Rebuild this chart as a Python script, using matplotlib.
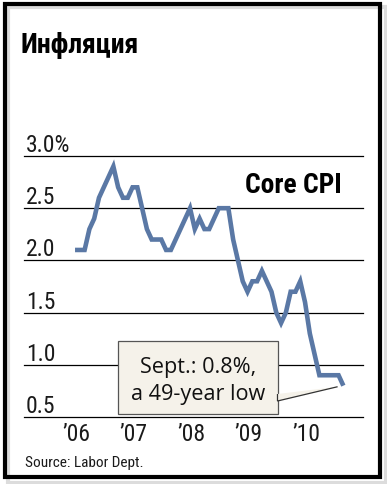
import matplotlib
matplotlib.use('Agg')
import matplotlib.pyplot as plt
from matplotlib.patches import Rectangle, FancyBboxPatch, Polygon

# core CPI, year-over-year %, monthly from Jan 2006 to Sept 2010
core_cpi = [2.1, 2.1, 2.1, 2.3, 2.4, 2.6, 2.7, 2.8, 2.9, 2.7, 2.6, 2.6,
            2.7, 2.7, 2.5, 2.3, 2.2, 2.2, 2.2, 2.1, 2.1, 2.2, 2.3, 2.4,
            2.5, 2.3, 2.4, 2.3, 2.3, 2.4, 2.5, 2.5, 2.5, 2.2, 2.0, 1.8,
            1.7, 1.8, 1.8, 1.9, 1.8, 1.7, 1.5, 1.4, 1.5, 1.7, 1.7, 1.8,
            1.6, 1.3, 1.1, 0.9, 0.9, 0.9, 0.9, 0.9, 0.8]
months = list(range(len(core_cpi)))
year_ticks = [0, 12, 24, 36, 48]
year_labels = ['\u201906', '\u201907', '\u201908', '\u201909', '\u201910']
y_ticks = [0.5, 1.0, 1.5, 2.0, 2.5, 3.0]
y_labels = ['0.5', '1.0', '1.5', '2.0', '2.5', '3.0%']

narrow = ['Liberation Sans Narrow', 'Roboto Condensed', 'DejaVu Sans Condensed', 'Roboto', 'DejaVu Sans']
W, H = 387, 485

fig = plt.figure(figsize=(W / 100, H / 100), dpi=100)
fig.patch.set_facecolor('white')

# frame with a light shadow
fig.patches.append(Rectangle((8 / W, 1 - 484 / H), 378 / W, 476 / H, transform=fig.transFigure,
                             facecolor='none', edgecolor='#dcdcdc', lw=3, zorder=0))
fig.patches.append(Rectangle((5 / W, 1 - 478 / H), 375 / W, 473 / H, transform=fig.transFigure,
                             facecolor='none', edgecolor='black', lw=3, zorder=1))

ax = fig.add_axes([24 / W, 1 - 418 / H, 339 / W, 261 / H])
ax.set_xlim(-10.65, 60.1)
ax.set_ylim(0.5, 3.0)
ax.axis('off')

for v, lab in zip(y_ticks, y_labels):
    ax.axhline(v, color='black', lw=0.9, clip_on=False, zorder=1)
    ax.annotate(lab, (0, v), xycoords=('axes fraction', 'data'), xytext=(2, 5),
                textcoords='offset pixels', ha='left', va='baseline',
                fontsize=17, family=narrow, color='#1a1a1a')

for m, lab in zip(year_ticks, year_labels):
    ax.annotate(lab, (m, 0.5), xycoords='data', xytext=(1, -23), textcoords='offset pixels',
                ha='center', va='baseline', fontsize=17, family=narrow, color='#1a1a1a',
                annotation_clip=False)

ax.plot(months, core_cpi, color='#5a78a5', lw=3.3, solid_joinstyle='miter',
        solid_capstyle='butt', zorder=3, clip_on=False)

# callout box
box = FancyBboxPatch((118 / W, 1 - 415 / H), 160 / W, 73 / H, boxstyle='square,pad=0',
                     transform=fig.transFigure, facecolor='#f5f2ea', edgecolor='#555555',
                     lw=0.9, zorder=5)
fig.patches.append(box)
tip = ax.transData.transform((54.8, 0.79))
tip_fig = fig.transFigure.inverted().transform(tip)
wedge = Polygon([(277.5 / W, 1 - 395 / H), (277.5 / W, 1 - 402 / H), tuple(tip_fig)],
                closed=False, transform=fig.transFigure, facecolor='#f5f2ea',
                edgecolor='#333333', lw=0.9, zorder=5)
fig.patches.append(wedge)
fig.text(198 / W, 1 - 373 / H, 'Sept.: 0.8%,', ha='center', va='baseline', fontsize=15.6,
         family=['Open Sans', 'DejaVu Sans'], color='#111111', zorder=6)
fig.text(198 / W, 1 - 400 / H, 'a 49-year low', ha='center', va='baseline', fontsize=15.6,
         family=['Open Sans', 'DejaVu Sans'], color='#111111', zorder=6)

fig.text(20 / W, 1 - 53 / H, 'Инфляция', ha='left', va='baseline', fontsize=20,
         fontweight='bold', family=narrow, color='black')
fig.text(245 / W, 1 - 193 / H, 'Core CPI', ha='left', va='baseline', fontsize=19.8,
         fontweight='bold', family=narrow, color='black')
fig.text(25 / W, 1 - 467 / H, 'Source: Labor Dept.', ha='left', va='baseline', fontsize=11,
         family=narrow, color='#1a1a1a')

fig.savefig('out.png', dpi=100)
